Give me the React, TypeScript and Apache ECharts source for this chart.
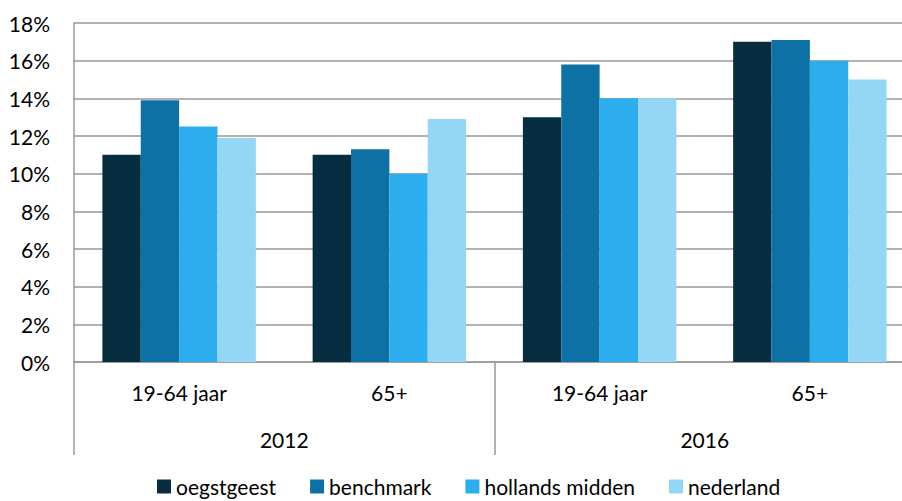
import React, { useEffect, useRef } from "react";
import * as echarts from "echarts";

const ageGroups = ["19-64 jaar", "65+", "19-64 jaar", "65+"];
const years = ["2012", "2016"];
const seriesNames = ["oegstgeest", "benchmark", "hollands midden", "nederland"];
const oegstgeest = [11.0, 11.0, 13.0, 17.0];
const benchmark = [13.9, 11.3, 15.8, 17.1];
const hollandsMidden = [12.5, 10.0, 14.0, 16.0];
const nederland = [11.9, 12.9, 14.0, 15.0];
const yTicks = [0, 2, 4, 6, 8, 10, 12, 14, 16, 18];
const colors = ["#062D40", "#0E71A5", "#2CADEE", "#94D6F5"];

const FONT = "Lato";
const FS = 21;

export default function App() {
  const ref = useRef<HTMLDivElement>(null);
  useEffect(() => {
    if (!ref.current) return;
    const chart = echarts.init(ref.current, undefined, { renderer: "svg" });
    const values = [oegstgeest, benchmark, hollandsMidden, nederland];
    chart.setOption({
      animation: false,
      textStyle: { fontFamily: FONT },
      legend: {
        top: 471,
        left: 152,
        itemWidth: 14,
        itemHeight: 14,
        itemGap: 34,
        icon: "rect",
        textStyle: { fontSize: FS, color: "#000", fontFamily: FONT },
        data: seriesNames,
      },
      grid: { left: 74, top: 23, right: 0, bottom: 139, containLabel: false },
      xAxis: [
        {
          type: "category",
          data: ageGroups,
          axisLine: { show: true, lineStyle: { color: "#999", width: 1.5 } },
          axisTick: { show: false },
          axisLabel: { color: "#000", fontSize: FS, margin: 20, fontFamily: FONT },
        },
        {
          type: "category",
          data: years,
          position: "bottom",
          axisLine: { show: false },
          axisTick: { show: true, length: 93, lineStyle: { color: "#999", width: 1.5 } },
          axisLabel: { color: "#000", fontSize: FS, margin: 67, fontFamily: FONT },
        },
      ],
      yAxis: {
        type: "value",
        min: yTicks[0],
        max: yTicks[yTicks.length - 1],
        interval: 2,
        axisLine: { show: true, lineStyle: { color: "#999", width: 1.5 } },
        axisTick: { show: false },
        axisLabel: { formatter: "{value}%", color: "#000", fontSize: FS, margin: 24, fontFamily: FONT },
        splitLine: { show: true, lineStyle: { color: "#999", width: 1.5 } },
      },
      series: seriesNames.map((name, i) => ({
        name,
        type: "bar",
        xAxisIndex: 0,
        data: values[i],
        barGap: "0%",
        barCategoryGap: "27%",
        itemStyle: { color: colors[i] },
      })),
    });
    return () => chart.dispose();
  }, []);
  return (
    <div style={{ width: 902, height: 501, position: "absolute", left: 0, top: 0, overflow: "hidden" }}>
      <div ref={ref} style={{ width: 915, height: 501 }} />
    </div>
  );
}
